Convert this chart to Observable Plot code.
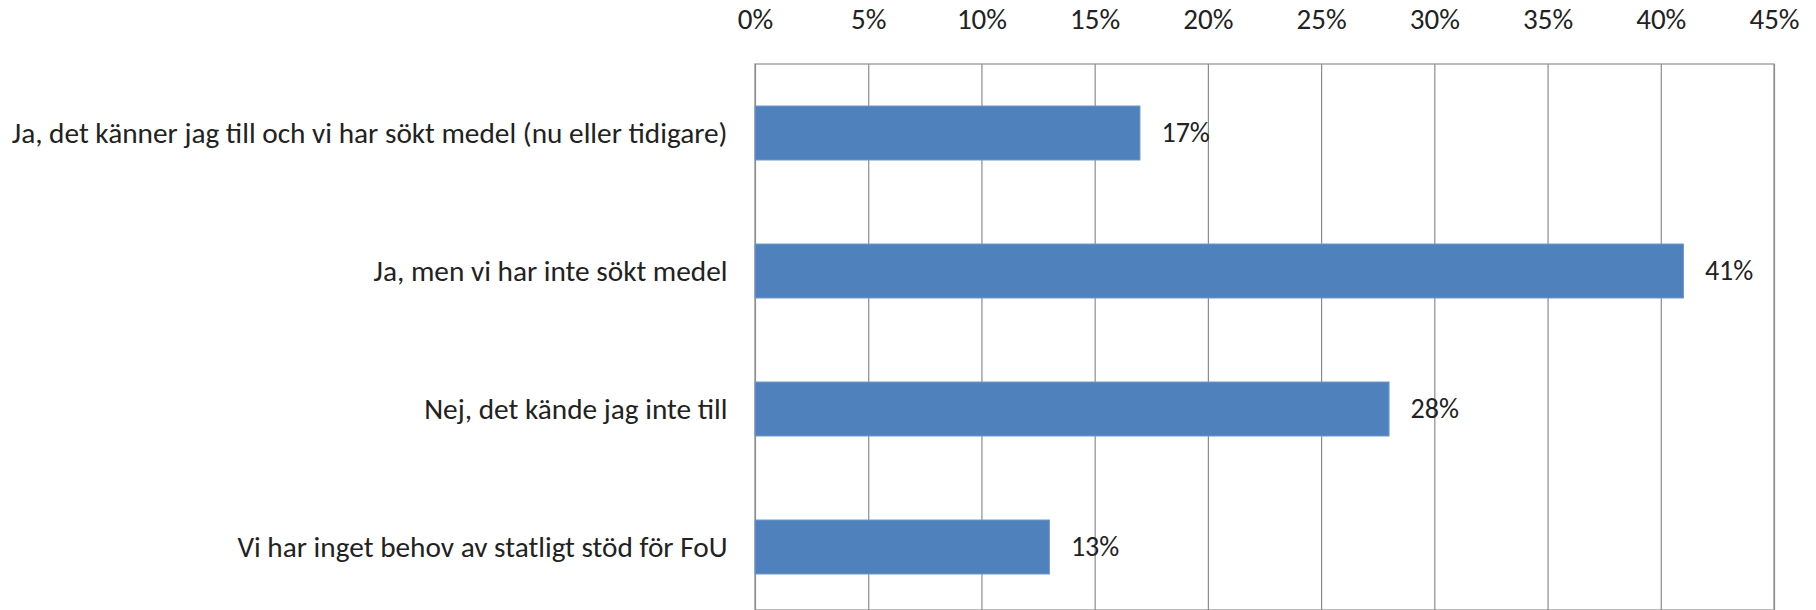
<!DOCTYPE html>
<html>
<head>
<meta charset="utf-8">
<script src="https://cdn.jsdelivr.net/npm/d3@7"></script>
<script src="https://cdn.jsdelivr.net/npm/@observablehq/plot@0.6"></script>
<style>
  html, body { margin: 0; padding: 0; background: #fff; }
  #chart { width: 1816px; height: 610px; overflow: hidden; }
</style>
</head>
<body>
<div id="chart"></div>
<script>
const categories = [
  "Ja, det känner jag till och vi har sökt medel (nu eller tidigare)",
  "Ja, men vi har inte sökt medel",
  "Nej, det kände jag inte till",
  "Vi har inget behov av statligt stöd för FoU"
];
const values = [17, 41, 28, 13];
const xTicks = [0, 5, 10, 15, 20, 25, 30, 35, 40, 45];

const data = categories.map((c, i) => ({category: c, value: values[i]}));
const FONT = "Carlito, Calibri, Lato, 'Open Sans', sans-serif";

const chart = Plot.plot({
  width: 1816,
  height: 610,
  marginLeft: 755,
  marginRight: 42,
  marginTop: 64,
  marginBottom: 0,
  style: {fontFamily: FONT, fontSize: "29.3px", color: "#222", background: "#fff", overflow: "hidden"},
  x: {domain: [0, 45], axis: null},
  y: {domain: categories, range: [64, 616], paddingInner: 0.61, paddingOuter: 0.305, label: null, tickSize: 0, tickPadding: 28},
  marks: [
    Plot.rect([{}], {x1: 0, x2: 45, fill: "none", stroke: "#a6a6a6", strokeWidth: 1.5}),
    Plot.ruleX(xTicks, {stroke: "#8c8c8c", strokeWidth: 1.2}),
    Plot.barX(data, {x: "value", y: "category", fill: "#4f81bd", stroke: "#6f97c9", strokeWidth: 1}),
    Plot.text(data, {x: "value", y: "category", text: d => d.value + "%", textAnchor: "start", dx: 21, fontSize: 28, fill: "#222"}),
    Plot.text(xTicks, {x: d => d, frameAnchor: "top", dy: -56, text: d => d + "%", fontSize: 29, fill: "#222"}),
    Plot.axisY({tickSize: 0, tickPadding: 28, fontSize: 29.3, label: null, fill: "#222"})
  ]
});
document.getElementById("chart").appendChild(chart);
</script>
</body>
</html>
